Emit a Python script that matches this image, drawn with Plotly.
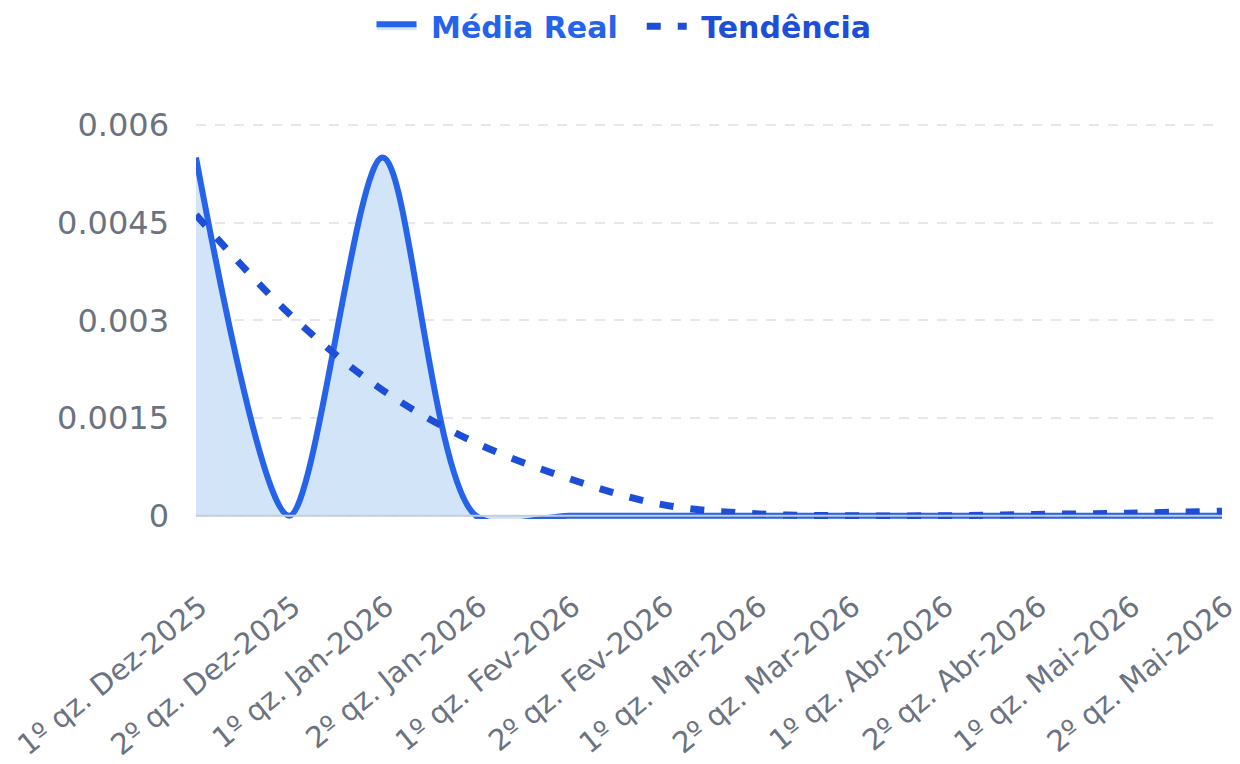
import plotly.graph_objects as go

categories = ["1º qz. Dez-2025", "2º qz. Dez-2025", "1º qz. Jan-2026", "2º qz. Jan-2026",
              "1º qz. Fev-2026", "2º qz. Fev-2026", "1º qz. Mar-2026", "2º qz. Mar-2026",
              "1º qz. Abr-2026", "2º qz. Abr-2026", "1º qz. Mai-2026", "2º qz. Mai-2026"]
media_real = [0.0055, 0.0, 0.0055, 0.0, 0.0, 0.0, 0.0, 0.0, 0.0, 0.0, 0.0, 0.0]
tendencia = [0.00462, 0.0031, 0.00193, 0.00112, 0.00057, 0.00017, 0.00003, 0.0, 0.0, 0.00002, 0.00004, 0.00007]
y_ticks = [0, 0.0015, 0.003, 0.0045, 0.006]
y_tick_labels = ["0", "0.0015", "0.003", "0.0045", "0.006"]

FONT = "DejaVu Sans"
TICK_COLOR = "#6B7280"
fig = go.Figure()
fig.add_trace(go.Scatter(
    x=categories, y=media_real, mode="lines",
    name='&nbsp;<span style="color:#2563EB"><b>Média Real</b></span>&nbsp;&nbsp;',
    line=dict(color="#2563EB", width=6, shape="spline", smoothing=0.85),
    fill="tozeroy", fillcolor="#D2E5F8",
))
fig.add_trace(go.Scatter(
    x=categories, y=tendencia, mode="lines",
    name='&nbsp;<span style="color:#1D4ED8"><b>Tendência</b></span>',
    line=dict(color="#1D4ED8", width=7, shape="spline", dash="14px,17px"),
))
fig.add_shape(type="line", xref="paper", x0=0, x1=1, yref="y", y0=0, y1=0,
              line=dict(color="#C9CED6", width=2), layer="above")
fig.update_layout(
    width=1232, height=756,
    paper_bgcolor="white", plot_bgcolor="white",
    margin=dict(l=188, r=18, t=104, b=245, autoexpand=False),
    font=dict(family=FONT, size=28, color=TICK_COLOR),
    showlegend=True,
    legend=dict(orientation="h", x=0.5, xref="container", xanchor="center",
                y=0.976, yref="container", yanchor="middle",
                font=dict(size=30, family=FONT), itemwidth=40,
                traceorder="normal", tracegroupgap=0),
)
fig.update_xaxes(
    type="category", range=[0, 11], tickangle=-39, showgrid=False,
    showline=False, ticks="", automargin=False,
    tickfont=dict(size=29, color=TICK_COLOR), ticklabelstandoff=64,
    ticklabelshift=4,
)
fig.update_yaxes(
    range=[-0.00005, 0.0062], tickvals=y_ticks, ticktext=y_tick_labels,
    showgrid=True, gridcolor="#E5E7EB", griddash="10px,9px", gridwidth=2,
    zeroline=False, automargin=False,
    tickfont=dict(size=32, color=TICK_COLOR), ticks="", ticklabelstandoff=26,
)
fig.write_html("out.html")
